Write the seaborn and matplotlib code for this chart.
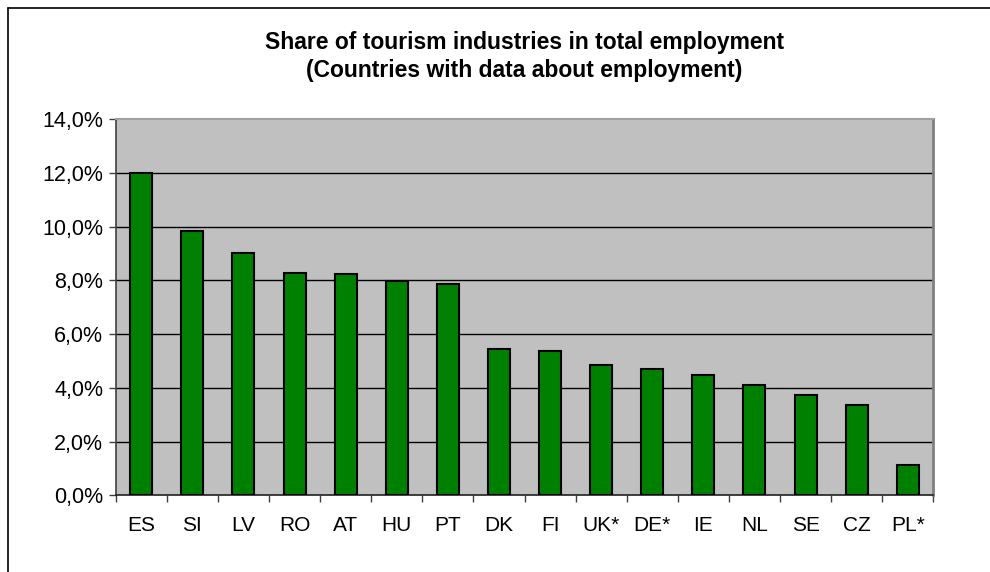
import matplotlib
matplotlib.use("Agg")
import matplotlib.pyplot as plt
import seaborn as sns
import pandas as pd
from matplotlib.ticker import FuncFormatter, FixedLocator
from matplotlib.lines import Line2D

countries = ["ES", "SI", "LV", "RO", "AT", "HU", "PT", "DK", "FI", "UK*", "DE*", "IE", "NL", "SE", "CZ", "PL*"]
shares = [12.0, 9.85, 9.03, 8.29, 8.23, 7.99, 7.86, 5.45, 5.38, 4.85, 4.70, 4.49, 4.11, 3.73, 3.37, 1.14]
y_ticks = [0, 2, 4, 6, 8, 10, 12, 14]
title_lines = ["Share of tourism industries in total employment",
               "(Countries with data about employment)"]

sns.set_theme(style="white")
plt.rcParams['font.family'] = ['Liberation Sans', 'DejaVu Sans']
plt.rcParams['text.color'] = 'black'
plt.rcParams['xtick.color'] = 'black'
plt.rcParams['ytick.color'] = 'black'

df = pd.DataFrame({"country": countries, "share": shares})

fig = plt.figure(figsize=(9.9, 5.72), dpi=100)
ax = fig.add_axes([115.7 / 990, 1 - 495.3 / 572, (933.3 - 115.7) / 990, (495.3 - 119.3) / 572])

sns.barplot(data=df, x="country", y="share", color="#008000", saturation=1,
            edgecolor="black", linewidth=1.5, width=0.43, ax=ax, zorder=3)

ax.set_facecolor("#C0C0C0")
ax.set_ylim(0, 14)
ax.set_xlim(-0.5, len(countries) - 0.5)
ax.yaxis.set_major_locator(FixedLocator(y_ticks))
ax.yaxis.set_major_formatter(FuncFormatter(lambda v, p: f"{v:.1f}%".replace(".", ",")))
for t in y_ticks[1:-1]:
    ax.axhline(t, color="black", lw=1, zorder=1)

ax.set_xlabel("")
ax.set_ylabel("")
ax.tick_params(axis="y", which="major", direction="out", length=5, width=1, color="#404040",
               labelsize=15.5, pad=4, left=True, labelcolor="black")
ax.tick_params(axis="x", which="major", length=0, labelsize=15, pad=15, labelcolor="black")
ax.xaxis.set_minor_locator(FixedLocator([i - 0.5 for i in range(len(countries) + 1)]))
ax.tick_params(axis="x", which="minor", direction="out", length=5, width=1, color="#404040", bottom=True)

for side in ["top", "right", "left", "bottom"]:
    ax.spines[side].set_visible(True)
ax.spines["top"].set_color("#A0A0A0")
ax.spines["top"].set_linewidth(1.5)
ax.spines["right"].set_color("#808080")
ax.spines["right"].set_linewidth(2)
ax.spines["left"].set_color("#404040")
ax.spines["left"].set_linewidth(1.2)
ax.spines["bottom"].set_color("#202020")
ax.spines["bottom"].set_linewidth(1.2)

cx = (115.7 + 933.3) / 2 / 990
fig.text(cx, 1 - 42 / 572, title_lines[0], ha="center", va="center", fontsize=16.5,
         fontweight="bold", color="black")
fig.text(cx, 1 - 71 / 572, title_lines[1], ha="center", va="center", fontsize=16.5,
         fontweight="bold", color="black")

fig.add_artist(Line2D([8 / 990, 8 / 990], [0, 1 - 7.5 / 572], color="black", lw=1.2, transform=fig.transFigure))
fig.add_artist(Line2D([8 / 990, 1], [1 - 7.5 / 572, 1 - 7.5 / 572], color="black", lw=1.2, transform=fig.transFigure))

fig.savefig("out.png", dpi=100, facecolor="white")
